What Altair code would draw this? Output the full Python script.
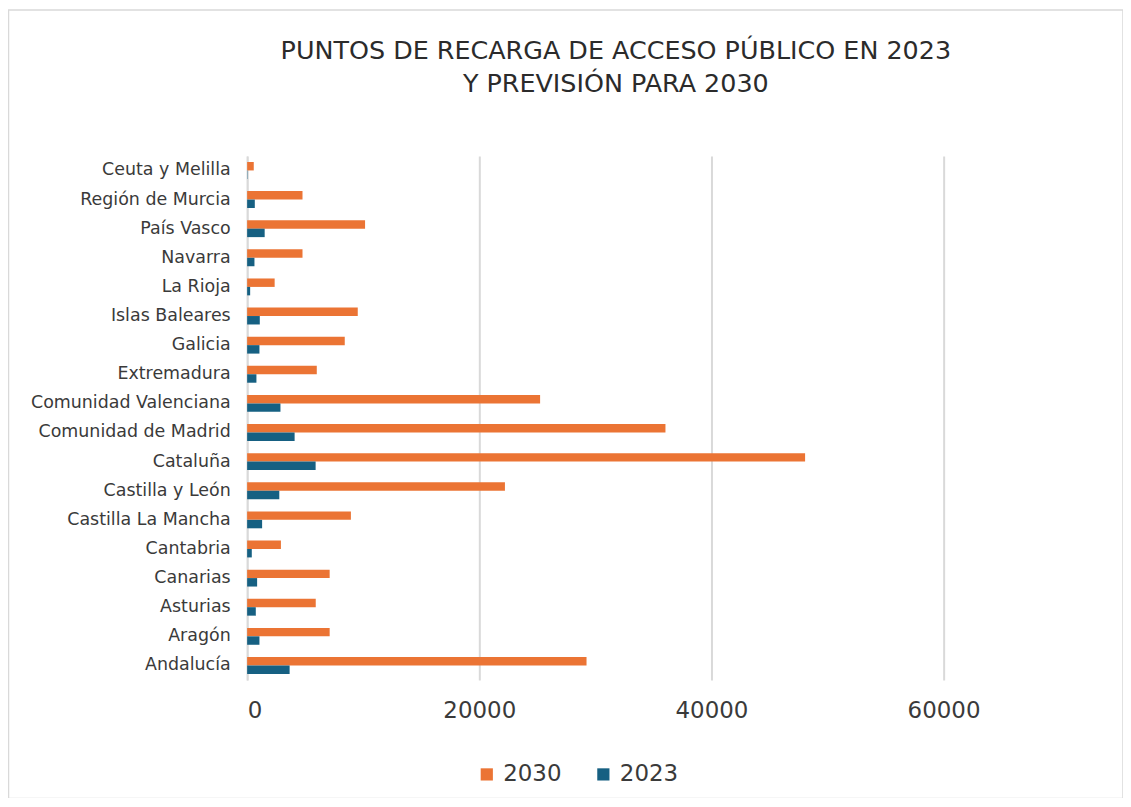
import altair as alt
import pandas as pd

regions = [
    "Ceuta y Melilla", "Región de Murcia", "País Vasco", "Navarra", "La Rioja",
    "Islas Baleares", "Galicia", "Extremadura", "Comunidad Valenciana",
    "Comunidad de Madrid", "Cataluña", "Castilla y León", "Castilla La Mancha",
    "Cantabria", "Canarias", "Asturias", "Aragón", "Andalucía",
]
v2030 = [570, 4770, 10160, 4770, 2370, 9530, 8410, 6000, 25240,
         36040, 48070, 22210, 8940, 2910, 7110, 5910, 7110, 29240]
v2023 = [30, 660, 1510, 630, 260, 1090, 1060, 800, 2870,
         4090, 5900, 2770, 1290, 400, 860, 745, 1060, 3660]
years = ["2030", "2023"]
x_ticks = [0, 20000, 40000, 60000]

rows = []
for r, a, b in zip(regions, v2030, v2023):
    rows.append({"region": r, "year": "2030", "value": a})
    rows.append({"region": r, "year": "2023", "value": b})
df = pd.DataFrame(rows)

FONT = "DejaVu Sans"
TXT = "#3a3a3a"

bars = alt.Chart(df).mark_bar().encode(
    y=alt.Y("region:N", sort=regions, title=None,
            scale=alt.Scale(paddingInner=0.42, paddingOuter=0.21),
            axis=alt.Axis(labelFontSize=17.5, labelColor=TXT, labelFont=FONT,
                          ticks=False, domain=True, domainColor="#d9d9d9",
                          domainWidth=1.5, labelPadding=17, labelLimit=400)),
    x=alt.X("value:Q", title=None,
            scale=alt.Scale(domain=[0, 74000], nice=False),
            axis=alt.Axis(values=x_ticks, labelFontSize=23, labelColor=TXT,
                          labelFont=FONT, ticks=False, domain=False,
                          grid=True, gridColor="#d9d9d9", gridWidth=2,
                          labelPadding=20, format="d")),
    yOffset=alt.YOffset("year:N", sort=years, scale=alt.Scale(paddingInner=0)),
    color=alt.Color("year:N", sort=years,
                    scale=alt.Scale(domain=years, range=["#EB7434", "#166082"]),
                    legend=alt.Legend(title=None, orient="none", direction="horizontal",
                                      legendX=229, legendY=609, symbolType="square",
                                      symbolSize=150, symbolStrokeWidth=0,
                                      labelFontSize=23, labelFont=FONT, labelColor=TXT,
                                      columnPadding=30, labelOffset=5, padding=0)),
)

frame = alt.Chart(alt.Data(values=[{}])).mark_rect(
    fill=None, stroke="#d9d9d9", strokeWidth=1.5
).encode(
    x=alt.value(-239.5), x2=alt.value(879), y=alt.value(-146.5), y2=alt.value(645)
)

chart = alt.layer(frame, bars).properties(
    width=862, height=526,
    padding={"left": 240, "top": 147, "right": 17, "bottom": 117},
    autosize=alt.AutoSizeParams(type="none"),
    background="white",
    title=alt.TitleParams(
        ["PUNTOS DE RECARGA DE ACCESO PÚBLICO EN 2023", "Y PREVISIÓN PARA 2030"],
        fontSize=25.5, font=FONT, fontWeight="normal", color="#2b2b2b",
        anchor="middle", dx=-61, offset=58, dy=147, lineHeight=33,
    ),
).configure_view(stroke=None)

chart.save("out.html", embed_options={"renderer": "svg", "actions": False})
